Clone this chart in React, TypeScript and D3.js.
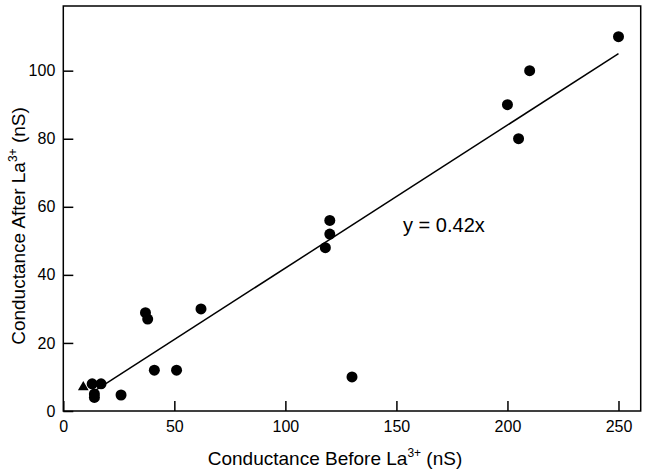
import React, { useRef, useEffect } from 'react';
import * as d3 from 'd3';

// circles: conductance before / after La3+
const before = [13, 17, 14, 14, 26, 37, 38, 41, 51, 62, 118, 120, 120, 130, 200, 205, 210, 250];
const after = [8, 8, 4, 5, 4.7, 28.9, 27, 12, 12, 30, 48, 52, 56, 10, 90, 80, 100, 110];
// triangle marker
const triBefore = [9];
const triAfter = [7];

const slope = 0.42;
const fitRange = [12, 250];
const xTicks = [0, 50, 100, 150, 200, 250];
const yTicks = [0, 20, 40, 60, 80, 100];

export default function App() {
  const ref = useRef<SVGSVGElement>(null);
  const width = 648;
  const height = 473;

  useEffect(() => {
    const svg = d3.select(ref.current);
    svg.selectAll('*').remove();

    const margin = { top: 6, right: 7.3, bottom: 62, left: 63.3 };
    const w = width - margin.left - margin.right;
    const h = height - margin.top - margin.bottom;
    const font = 'Liberation Sans, Arial, sans-serif';

    const x = d3.scaleLinear().domain([0, 260]).range([0, w]);
    const y = d3.scaleLinear().domain([0, 119]).range([h, 0]);

    const g = svg.append('g').attr('transform', `translate(${margin.left},${margin.top})`);

    // Frame
    g.append('rect')
      .attr('width', w).attr('height', h)
      .attr('fill', 'none').attr('stroke', '#000').attr('stroke-width', 1.5);

    // X axis (ticks inward)
    const xa = g.append('g').attr('transform', `translate(0,${h})`)
      .call(d3.axisBottom(x).tickValues(xTicks).tickSizeInner(-10).tickSizeOuter(0).tickPadding(10));
    xa.select('.domain').remove();
    xa.selectAll('line').attr('stroke-width', 1.5);
    xa.selectAll('text').attr('font-family', font).attr('font-size', 16).attr('fill', '#000');

    // Y axis
    const ya = g.append('g')
      .call(d3.axisLeft(y).tickValues(yTicks).tickSizeInner(-10).tickSizeOuter(0).tickPadding(8));
    ya.select('.domain').remove();
    ya.selectAll('line').attr('stroke-width', 1.5);
    ya.selectAll('text').attr('font-family', font).attr('font-size', 16).attr('fill', '#000');

    // Axis titles
    const xt = svg.append('text')
      .attr('x', 335).attr('y', 465)
      .attr('text-anchor', 'middle')
      .attr('font-family', font).attr('font-size', 19);
    xt.append('tspan').text('Conductance Before La');
    xt.append('tspan').attr('dy', -8).attr('font-size', 12).text('3+');
    xt.append('tspan').attr('dy', 8).text(' (nS)');

    const yt = svg.append('text')
      .attr('transform', `translate(25,226) rotate(-90)`)
      .attr('text-anchor', 'middle')
      .attr('font-family', font).attr('font-size', 19);
    yt.append('tspan').text('Conductance After La');
    yt.append('tspan').attr('dy', -8).attr('font-size', 12).text('3+');
    yt.append('tspan').attr('dy', 8).text(' (nS)');

    // Fit line
    g.append('line')
      .attr('x1', x(fitRange[0])).attr('y1', y(slope * fitRange[0]))
      .attr('x2', x(fitRange[1])).attr('y2', y(slope * fitRange[1]))
      .attr('stroke', '#000').attr('stroke-width', 1.5);

    // Points
    g.selectAll('circle.pt')
      .data(before.map((b, i) => [b, after[i]]))
      .enter().append('circle')
      .attr('class', 'pt')
      .attr('cx', d => x(d[0])).attr('cy', d => y(d[1]))
      .attr('r', 5.5).attr('fill', '#000');

    g.selectAll('path.tri')
      .data(triBefore.map((b, i) => [b, triAfter[i]]))
      .enter().append('path')
      .attr('class', 'tri')
      .attr('transform', d => `translate(${x(d[0])},${y(d[1])})`)
      .attr('d', d3.symbol().type(d3.symbolTriangle).size(50)())
      .attr('fill', '#000');

    // Equation
    g.append('text')
      .attr('x', x(153)).attr('y', 232 - margin.top)
      .attr('font-family', font).attr('font-size', 20)
      .text('y = 0.42x');
  }, []);

  return (
    <div>
      <style>{'body{margin:0}'}</style>
      <svg ref={ref} width={width} height={height} style={{ display: 'block' }} />
    </div>
  );
}
